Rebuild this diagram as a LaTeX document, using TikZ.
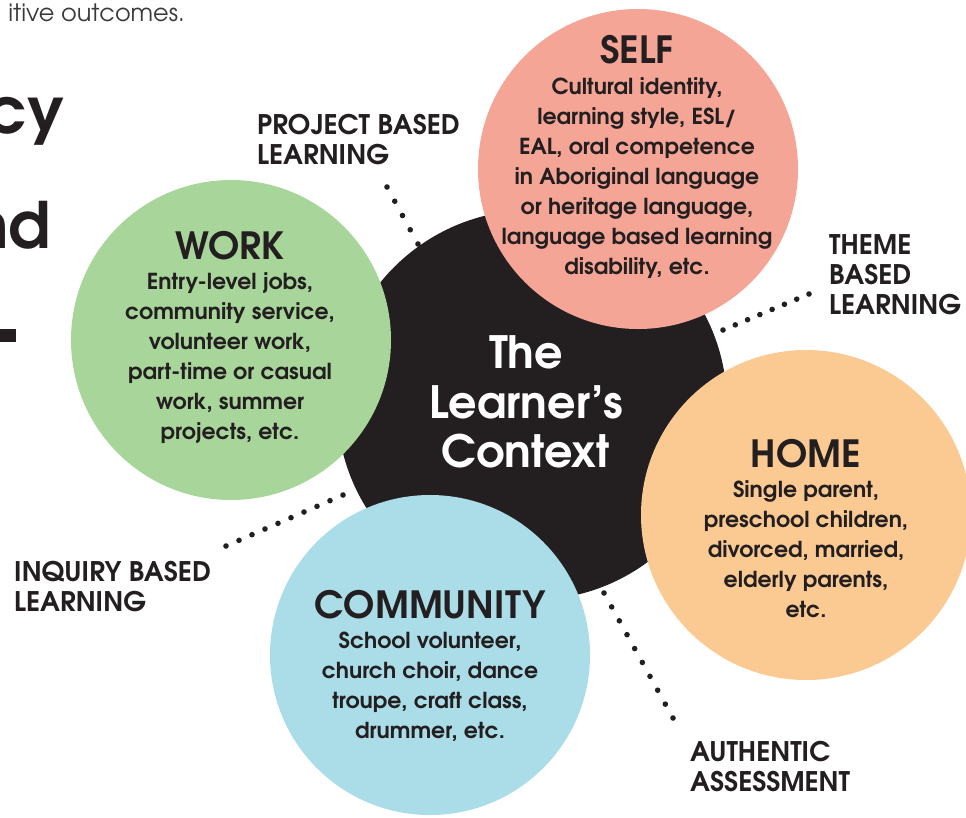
\documentclass[tikz,border=0pt]{standalone}
\usepackage{fontspec}
\setmainfont{TeX Gyre Adventor}
\usetikzlibrary{calc}
\definecolor{ink}{HTML}{231F20}
\definecolor{cself}{HTML}{F5A596}
\definecolor{cwork}{HTML}{A8D59A}
\definecolor{chome}{HTML}{FBCA93}
\definecolor{ccomm}{HTML}{AADDE8}
\definecolor{cintro}{HTML}{3A3A3A}
\begin{document}
\begin{tikzpicture}[x=1pt,y=-1pt,
  disc/.style={circle, inner sep=0pt, minimum size=#1},
  body/.style={font=\fontsize{22}{30}\selectfont\bfseries, text=ink, anchor=base, inner sep=0pt},
  ttl/.style={font=\fontsize{37.5}{40}\selectfont\bfseries, text=ink, anchor=base, inner sep=0pt},
  ctr/.style={font=\fontsize{44.5}{50}\selectfont\bfseries, text=white, anchor=base, inner sep=0pt},
  lbl/.style={font=\fontsize{27}{30}\selectfont\bfseries, text=ink, anchor=base west, inner sep=0pt},
  big/.style={font=\fontsize{64}{70}\selectfont\bfseries, text=ink, anchor=base east, inner sep=0pt}]
\useasboundingbox (0,0) rectangle (966,817);
\clip (0,0) rectangle (966,817);
% page fragments
\node[anchor=base east, inner sep=0pt, font=\fontsize{24}{26}\selectfont, text=cintro] (intro) at (185,21) {itive outcomes.};
\node[big] (bigA) at (65,133) {cy};
\node[big] (bigB) at (51,248) {nd};
\fill[ink] (0,329) rectangle (16,342);
% connectors (dots)
\coordinate (pbA) at (387,187); \coordinate (pbB) at (418,244);
\coordinate (tbA) at (809,294); \coordinate (tbB) at (723,330);
\coordinate (ibA) at (226,546); \coordinate (ibB) at (343,495);
\coordinate (aaA) at (673,718); \coordinate (aaB) at (604,593);
\foreach \i in {0,...,4} \fill[ink] ($(pbA)!\i/4!(pbB)$) circle[radius=2.8pt];
\foreach \i in {0,...,7} \fill[ink] ($(tbA)!\i/7!(tbB)$) circle[radius=2.8pt];
\foreach \i in {0,...,9} \fill[ink] ($(ibA)!\i/9!(ibB)$) circle[radius=2.8pt];
\foreach \i in {0,...,9} \fill[ink] ($(aaA)!\i/9!(aaB)$) circle[radius=2.8pt];
% circles
\node[disc=390pt, fill=ink] (ctx) at (532,405) {};
\node[disc=320pt, fill=cself] (self) at (638,169) {};
\node[disc=320pt, fill=cwork] (work) at (231,340) {};
\node[disc=330pt, fill=chome] (home) at (806,515) {};
\node[disc=320pt, fill=ccomm] (comm) at (430,655) {};
% center text
\node[ctr] (c1) at (526,368) {The};
\node[ctr] (c2) at (526,418) {Learner’s};
\node[ctr] (c3) at (526,467) {Context};
% SELF
\node[ttl] (selfT) at (637,63) {SELF};
\foreach \t [count=\k] in {{Cultural identity,},{learning style, ESL/},{EAL, oral competence},{in Aboriginal language},{or heritage language,},{language based learning},{disability, etc.}}
  \node[body] (self\k) at (637,{94+30*(\k-1)}) {\t};
% WORK
\node[ttl] (workT) at (230,259) {WORK};
\foreach \t [count=\k] in {{Entry-level jobs,},{community service,},{volunteer work,},{part-time or casual},{work, summer},{projects, etc.}}
  \node[body] (work\k) at (230,{289+30*(\k-1)}) {\t};
% HOME
\node[ttl] (homeT) at (806,467) {HOME};
\foreach \t [count=\k] in {{Single parent,},{preschool children,},{divorced, married,},{elderly parents,},{etc.}}
  \node[body] (home\k) at (806,{497+30*(\k-1)}) {\t};
% COMMUNITY
\node[ttl] (commT) at (430,618) {COMMUNITY};
\foreach \t [count=\k] in {{School volunteer,},{church choir, dance},{troupe, craft class,},{drummer, etc.}}
  \node[body] (comm\k) at (430,{648+30*(\k-1)}) {\t};
% labels
\node[lbl] (pb1) at (257,134) {PROJECT BASED};
\node[lbl] (pb2) at (257,164) {LEARNING};
\node[lbl] (tb1) at (829,254) {THEME};
\node[lbl] (tb2) at (829,284) {BASED};
\node[lbl] (tb3) at (829,314) {LEARNING};
\node[lbl] (ib1) at (14,581) {INQUIRY BASED};
\node[lbl] (ib2) at (14,611) {LEARNING};
\node[lbl] (aa1) at (690,761) {AUTHENTIC};
\node[lbl] (aa2) at (690,791) {ASSESSMENT};
\end{tikzpicture}
\end{document}
